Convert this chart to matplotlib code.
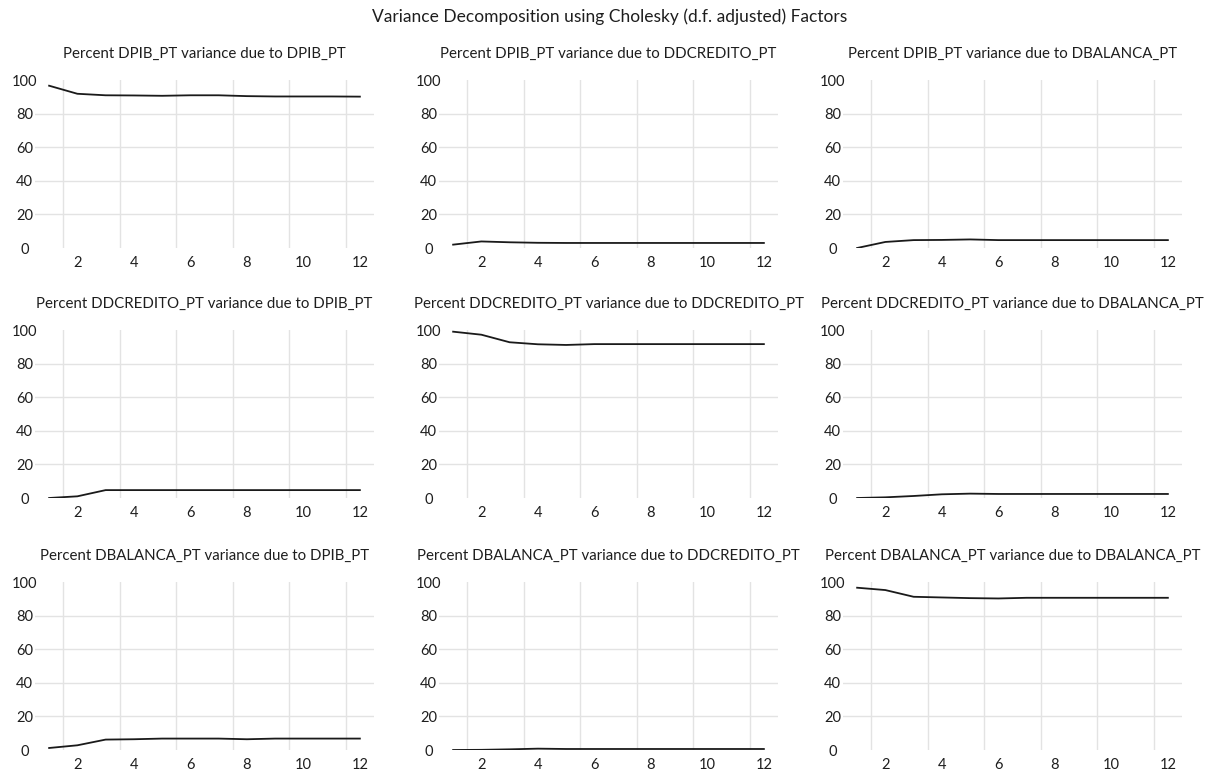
import matplotlib
matplotlib.use("Agg")
import matplotlib.pyplot as plt
from matplotlib.ticker import FixedLocator

plt.rcParams['font.family'] = ['Lato', 'DejaVu Sans']

periods = list(range(1, 13))
variables = ["DPIB_PT", "DDCREDITO_PT", "DBALANCA_PT"]

# rows: response variable, columns: shock variable
dpib_dpib = [96.6, 91.8, 90.9, 90.8, 90.6, 90.9, 90.9, 90.4, 90.2, 90.2, 90.2, 90.1]
dpib_dcred = [2.0, 3.9, 3.4, 3.1, 3.0, 3.0, 3.0, 3.0, 3.0, 3.0, 3.0, 3.0]
dpib_dbal = [0.0, 3.6, 4.7, 4.8, 5.1, 4.7, 4.7, 4.7, 4.7, 4.7, 4.7, 4.7]
dcred_dpib = [0.0, 1.0, 4.7, 4.7, 4.7, 4.7, 4.7, 4.7, 4.7, 4.7, 4.7, 4.7]
dcred_dcred = [99.0, 97.2, 92.7, 91.5, 91.1, 91.6, 91.6, 91.6, 91.6, 91.6, 91.6, 91.6]
dcred_dbal = [0.0, 0.4, 1.2, 2.2, 2.6, 2.4, 2.4, 2.4, 2.4, 2.4, 2.4, 2.4]
dbal_dpib = [1.2, 2.8, 6.2, 6.4, 6.8, 6.8, 6.8, 6.4, 6.8, 6.8, 6.8, 6.8]
dbal_dcred = [0.0, 0.1, 0.4, 0.8, 0.6, 0.6, 0.6, 0.6, 0.6, 0.6, 0.6, 0.6]
dbal_dbal = [96.6, 95.2, 91.2, 90.8, 90.4, 90.2, 90.6, 90.6, 90.6, 90.6, 90.6, 90.6]

series = [[dpib_dpib, dpib_dcred, dpib_dbal],
          [dcred_dpib, dcred_dcred, dcred_dbal],
          [dbal_dpib, dbal_dcred, dbal_dbal]]

suptitle = "Variance Decomposition using Cholesky (d.f. adjusted) Factors"
y_ticks = [0, 20, 40, 60, 80, 100]
x_ticks = [2, 4, 6, 8, 10, 12]

W, H = 1208, 774
fig = plt.figure(figsize=(W / 100, H / 100), dpi=100)
fig.patch.set_facecolor('white')

col_left = [35, 439, 843]
row_top = [80, 330, 582]
ax_w = 339
ax_h = 168

text_color = '#1e1e1e'
grid_color = '#e3e3e3'

for i in range(3):
    for j in range(3):
        left = col_left[j] / W
        bottom = 1 - (row_top[i] + ax_h) / H
        ax = fig.add_axes([left, bottom, ax_w / W, ax_h / H])
        ax.plot(periods, series[i][j], color='#1a1a1a', lw=1.3)
        ax.set_xlim(0.5, 12.5)
        ax.set_ylim(0, 100)
        for s in ax.spines.values():
            s.set_visible(False)
        ax.set_xticks(x_ticks)
        ax.set_yticks(y_ticks)
        ax.xaxis.set_minor_locator(FixedLocator([1.5, 3.5, 5.5, 7.5, 9.5, 11.5]))
        ax.tick_params(axis='both', which='both', length=0, labelsize=10.5,
                       labelcolor=text_color)
        ax.tick_params(axis='x', pad=6)
        ax.tick_params(axis='y', pad=7.5)
        for lab in ax.get_yticklabels():
            lab.set_horizontalalignment('center')
        ax.grid(False)
        ax.xaxis.grid(True, which='minor', color=grid_color, lw=1.0)
        for yv in [20, 40, 60, 80]:
            ax.axhline(yv, color=grid_color, lw=1.0, zorder=0)
        ax.set_axisbelow(True)
        ax.set_title(f"Percent {variables[i]} variance due to {variables[j]}",
                     fontsize=10.8, color=text_color, pad=16)

fig.text(610 / W, 1 - 17 / H, suptitle, ha='center', va='center',
         fontsize=12.5, color=text_color)

fig.savefig("out.png", dpi=100, facecolor='white')
